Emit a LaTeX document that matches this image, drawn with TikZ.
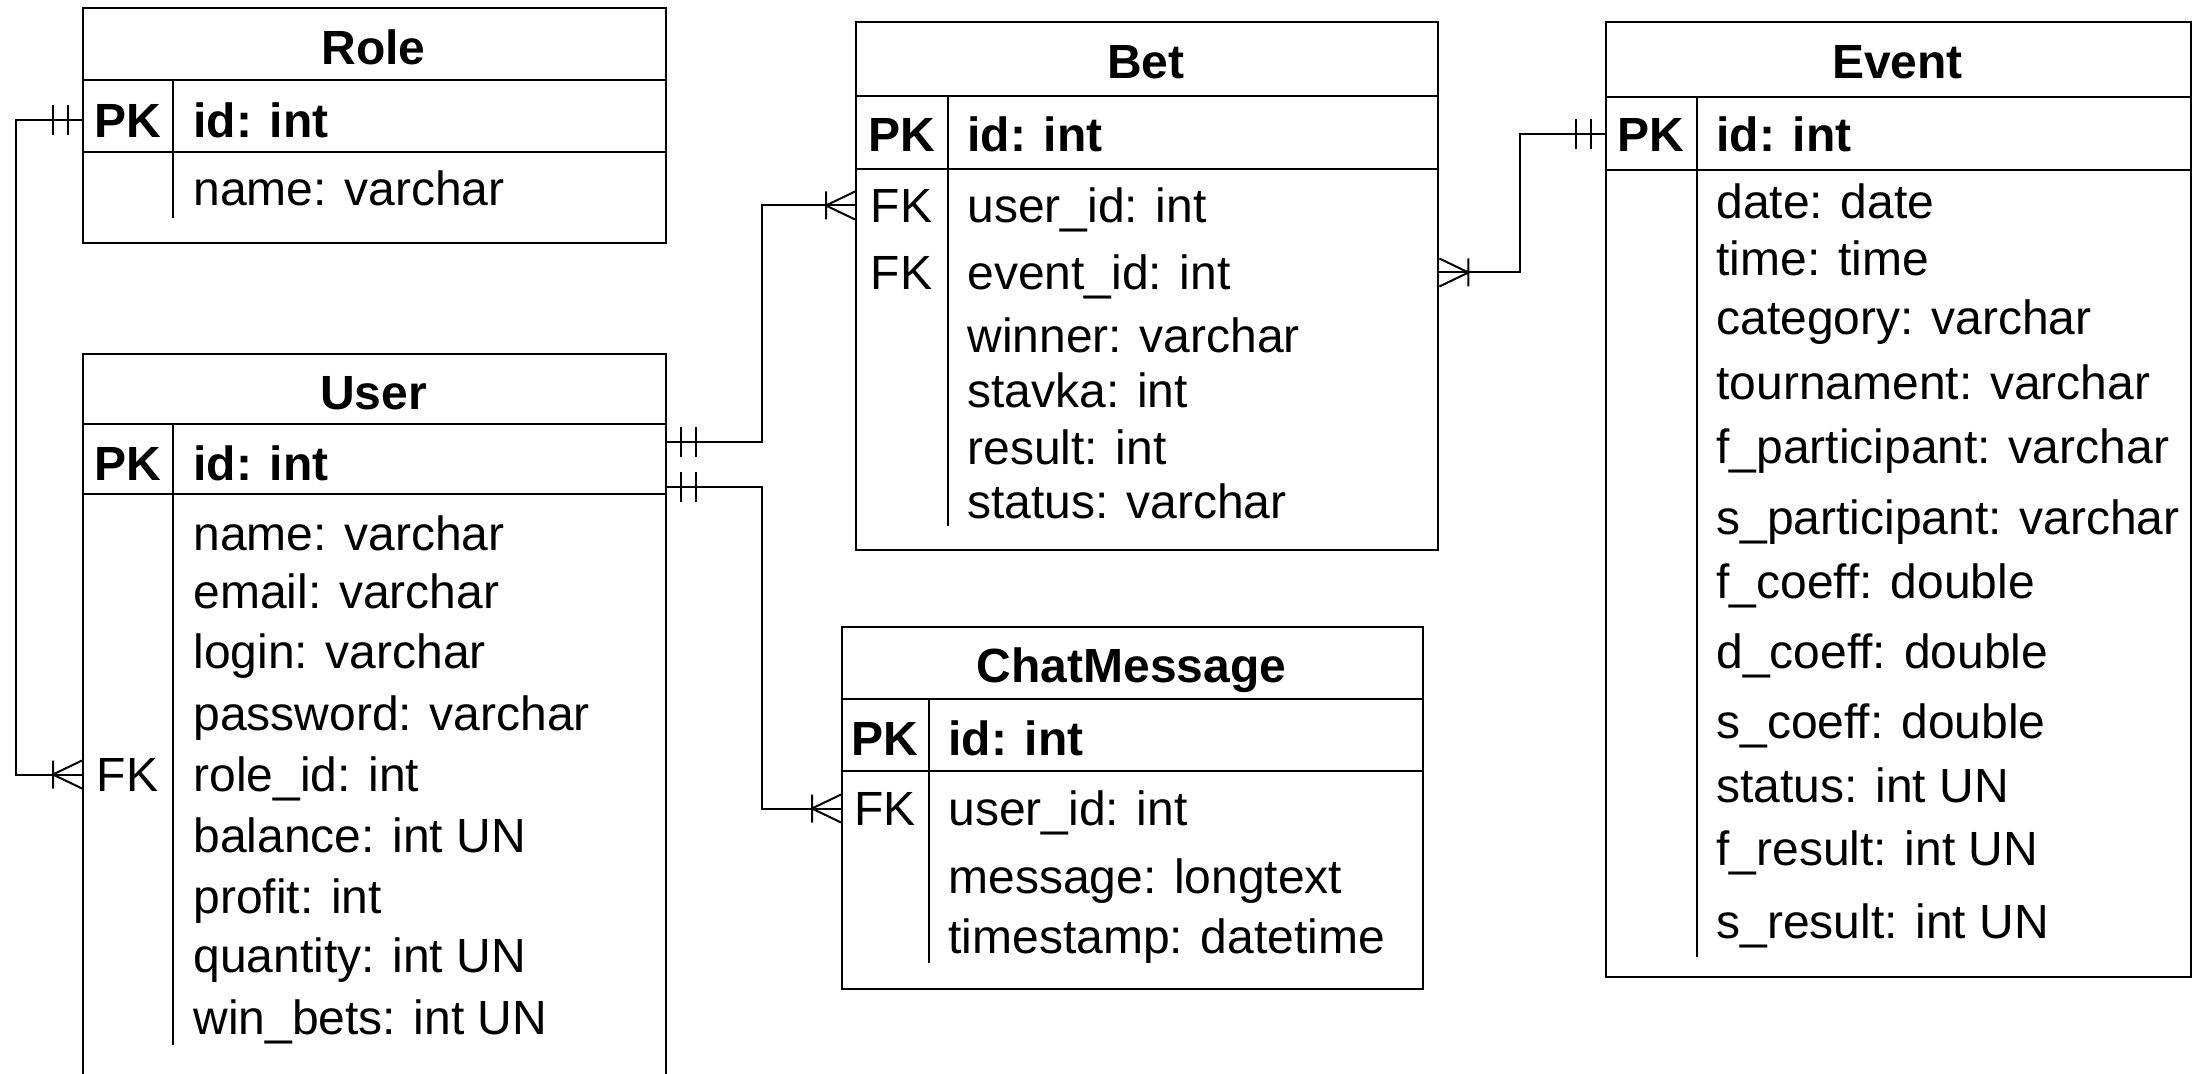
\documentclass[tikz,border=0pt]{standalone}
\usepackage{fontspec}
\setmainfont{Liberation Sans}
\usetikzlibrary{calc}
\begin{document}
\begin{tikzpicture}[x=0.5pt,y=-0.5pt,
  every node/.style={font=\fontsize{24}{28}\selectfont, inner sep=0pt},
  tbl/.style={draw, line width=1.2pt, anchor=north west, fill=white},
  sep/.style={line width=1.2pt},
  div/.style={line width=1.1pt},
  ttl/.style={font=\fontsize{24}{28}\selectfont\bfseries, anchor=base},
  keyb/.style={font=\fontsize{24}{28}\selectfont\bfseries, anchor=base},
  keyn/.style={anchor=base},
  fldb/.style={font=\fontsize{24}{28}\selectfont\bfseries, anchor=base west},
  fld/.style={anchor=base west},
  conn/.style={line width=1pt},
  erone/.pic={\draw[line width=1pt] (-14,-15) -- (-14,15) (-29,-15) -- (-29,15);},
  ermany/.pic={\draw[line width=1pt] (-29,-14) -- (-29,14) (0,-14) -- (-29,0) -- (0,14);}
]
\useasboundingbox (0,0) rectangle (2208,1073);
\clip (0,0) rectangle (2208,1073);

% ---------- Role ----------
\node[tbl, minimum width=291.5pt, minimum height=117.5pt] (role) at (82,7) {};
\draw[sep] (82,80) -- (665,80) (82,152) -- (665,152);
\draw[div] (173,80) -- (173,218);
\node[ttl] at (373.5,64) {Role};
\node[keyb] (rolePK) at (127.5,137) {PK};
\node[fldb] at (193,137) {id: int};
\node[fld] at (193,205) {name: varchar};

% ---------- User ----------
\node[tbl, minimum width=291.5pt, minimum height=380pt] (user) at (82,353) {};
\draw[sep] (82,424) -- (665,424) (82,494) -- (665,494);
\draw[div] (173,424) -- (173,1045);
\node[ttl] at (373.5,409) {User};
\node[keyb] (userPK) at (127.5,480) {PK};
\node[fldb] at (193,480) {id: int};
\node[fld] at (193,550) {name: varchar};
\node[fld] at (193,608) {email: varchar};
\node[fld] at (193,668) {login: varchar};
\node[fld] at (193,730) {password: varchar};
\node[keyn] (userFK) at (127.5,791) {FK};
\node[fld] at (193,791) {role\_id: int};
\node[fld] at (193,852) {balance: int UN};
\node[fld] at (193,913) {profit: int};
\node[fld] at (193,972) {quantity: int UN};
\node[fld] at (193,1034) {win\_bets: int UN};

% ---------- Bet ----------
\node[tbl, minimum width=291pt, minimum height=264pt] (bet) at (855,21) {};
\draw[sep] (855,96) -- (1437,96) (855,169) -- (1437,169);
\draw[div] (948,96) -- (948,526);
\node[ttl] at (1146,78) {Bet};
\node[keyb] (betPK) at (901.5,151) {PK};
\node[fldb] at (967,151) {id: int};
\node[keyn] (betFK1) at (901.5,222) {FK};
\node[fld] at (967,222) {user\_id: int};
\node[keyn] (betFK2) at (901.5,289) {FK};
\node[fld] at (967,289) {event\_id: int};
\node[fld] at (967,352) {winner: varchar};
\node[fld] at (967,407) {stavka: int};
\node[fld] at (967,464) {result: int};
\node[fld] at (967,518) {status: varchar};

% ---------- ChatMessage ----------
\node[tbl, minimum width=290.5pt, minimum height=181pt] (chat) at (841,626) {};
\draw[sep] (841,699) -- (1422,699) (841,771) -- (1422,771);
\draw[div] (929,699) -- (929,963);
\node[ttl] at (1131.5,682) {ChatMessage};
\node[keyb] (chatPK) at (885,755) {PK};
\node[fldb] at (948,755) {id: int};
\node[keyn] (chatFK) at (885,825) {FK};
\node[fld] at (948,825) {user\_id: int};
\node[fld] at (948,893) {message: longtext};
\node[fld] at (948,953) {timestamp: datetime};

% ---------- Event ----------
\node[tbl, minimum width=292.5pt, minimum height=477.5pt] (event) at (1605,21) {};
\draw[sep] (1605,97) -- (2190,97) (1605,170) -- (2190,170);
\draw[div] (1697,97) -- (1697,957);
\node[ttl] at (1897.5,78) {Event};
\node[keyb] (eventPK) at (1651,151) {PK};
\node[fldb] at (1716,151) {id: int};
\node[fld] at (1716,218) {date: date};
\node[fld] at (1716,275) {time: time};
\node[fld] at (1716,334) {category: varchar};
\node[fld] at (1716,399) {tournament: varchar};
\node[fld] at (1716,463) {f\_participant: varchar};
\node[fld] at (1716,534) {s\_participant: varchar};
\node[fld] at (1716,598) {f\_coeff: double};
\node[fld] at (1716,668) {d\_coeff: double};
\node[fld] at (1716,738) {s\_coeff: double};
\node[fld] at (1716,802) {status: int UN};
\node[fld] at (1716,865) {f\_result: int UN};
\node[fld] at (1716,938) {s\_result: int UN};

% ---------- Connectors ----------
\coordinate (uB) at ($(user.north east)+(0,89)$);
\coordinate (uC) at ($(user.north east)+(0,134)$);

\draw[conn] (role.west |- rolePK) -- ++(-66,0) |- (user.west |- userFK);
\draw[conn] (uB) -- ++(95,0) |- (bet.west |- betFK1);
\draw[conn] (uC) -- ++(95,0) |- (chat.west |- chatFK);
\draw[conn] (bet.east |- betFK2) -- ++(81,0) |- (event.west |- eventPK);

\pic at (role.west |- rolePK) {erone};
\pic at (user.west |- userFK) {ermany};
\pic[rotate=180] at (uB) {erone};
\pic[rotate=180] at (uC) {erone};
\pic at (bet.west |- betFK1) {ermany};
\pic at (chat.west |- chatFK) {ermany};
\pic[rotate=180] at (bet.east |- betFK2) {ermany};
\pic at (event.west |- eventPK) {erone};
\end{tikzpicture}
\end{document}
